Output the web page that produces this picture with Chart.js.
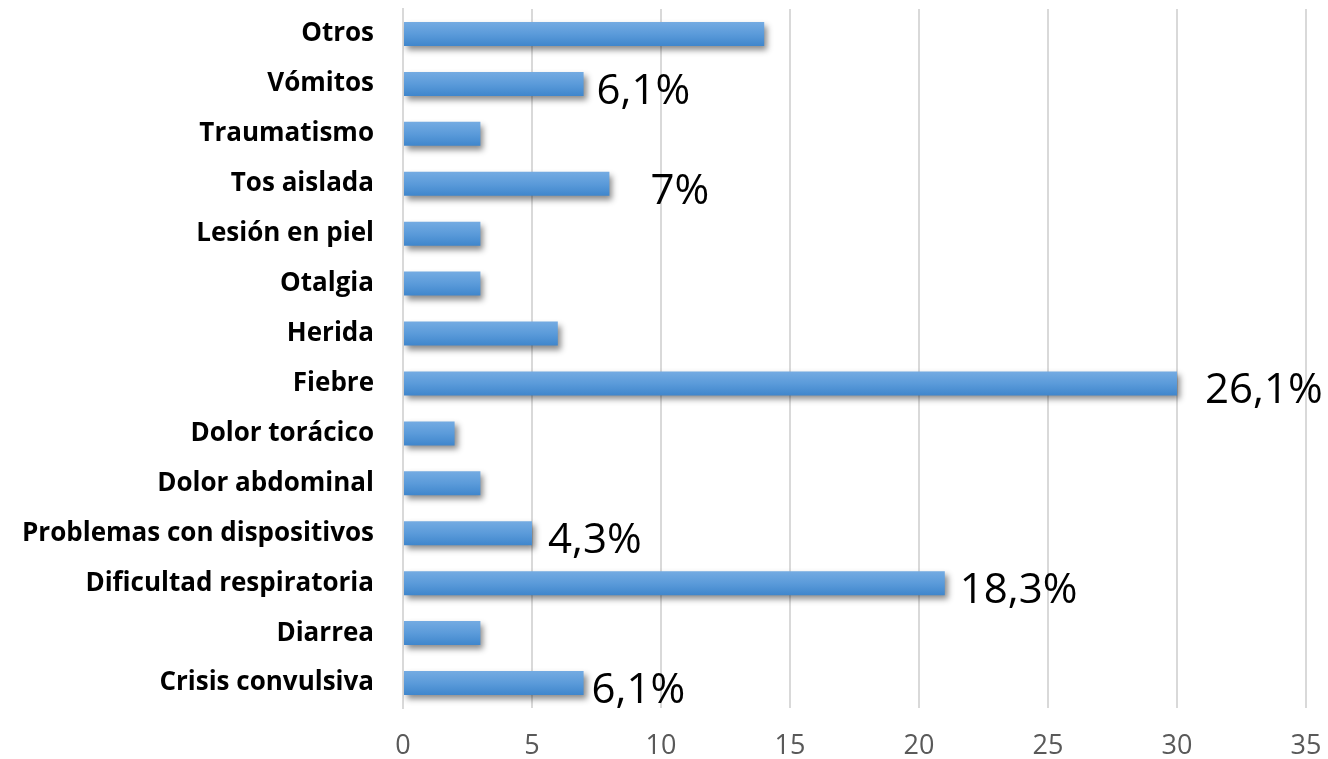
<!DOCTYPE html>
<html>
<head>
<meta charset="utf-8">
<script src="https://cdn.jsdelivr.net/npm/chart.js@4"></script>
<style>
  html, body { margin: 0; padding: 0; background: #fff; }
  #wrap { width: 1328px; height: 759px; }
</style>
</head>
<body>
<div id="wrap"><canvas id="barChart"></canvas></div>
<script>
// Categories, top to bottom as in the picture
const categories = ['Otros', 'Vómitos', 'Traumatismo', 'Tos aislada', 'Lesión en piel', 'Otalgia', 'Herida',
    'Fiebre', 'Dolor torácico', 'Dolor abdominal', 'Problemas con dispositivos',
    'Dificultad respiratoria', 'Diarrea', 'Crisis convulsiva'];
const counts = [14, 7, 3, 8, 3, 3, 6, 30, 2, 3, 5, 21, 3, 7];
const pctLabels = ['', '6,1%', '', '7%', '', '', '', '26,1%', '', '', '4,3%', '18,3%', '', '6,1%'];
const xTicks = [0, 5, 10, 15, 20, 25, 30, 35];

// horizontal nudge of each percentage label (px), layout only
const labelDx = [0, 13, 0, 41, 0, 0, 0, 28, 0, 0, 16, 15, 0, 8];
const BAR_PCT = 0.48;

const barShadow = {
    id: 'barShadow',
    beforeDatasetsDraw(chart) {
        const ctx = chart.ctx;
        ctx.save();
        ctx.shadowColor = 'rgba(0,0,0,0.45)';
        ctx.shadowBlur = 6;
        ctx.shadowOffsetX = 3;
        ctx.shadowOffsetY = 4;
    },
    afterDatasetsDraw(chart) {
        chart.ctx.restore();
    }
};

const pctLabelPlugin = {
    id: 'pctLabels',
    afterDatasetsDraw(chart) {
        const ctx = chart.ctx;
        const meta = chart.getDatasetMeta(0);
        ctx.save();
        ctx.font = '42px "Open Sans"';
        ctx.fillStyle = '#000';
        ctx.textAlign = 'left';
        ctx.textBaseline = 'middle';
        meta.data.forEach((bar, i) => {
            if (!pctLabels[i]) return;
            ctx.fillText(pctLabels[i], bar.x + labelDx[i], bar.y + 8);
        });
        ctx.restore();
    }
};

function barGradient(c) {
    const chart = c.chart;
    const area = chart.chartArea;
    const yScale = chart.scales.y;
    if (!area || !yScale || c.dataIndex === undefined) return '#5b9bd5';
    const h = area.height / categories.length * BAR_PCT;
    const yc = yScale.getPixelForValue(c.dataIndex);
    const grad = chart.ctx.createLinearGradient(0, yc - h / 2, 0, yc + h / 2);
    grad.addColorStop(0, '#74abe2');
    grad.addColorStop(0.5, '#5b9bda');
    grad.addColorStop(1, '#3f86cc');
    return grad;
}

const ctx = document.getElementById('barChart');

new Chart(ctx, {
    type: 'bar',
    data: {
        labels: categories,
        datasets: [{
            data: counts,
            backgroundColor: barGradient,
            borderWidth: 0,
            categoryPercentage: 1,
            barPercentage: BAR_PCT
        }]
    },
    options: {
        indexAxis: 'y',
        responsive: true,
        maintainAspectRatio: false,
        animation: false,
        layout: { padding: { left: 0, right: 22, top: 9, bottom: 0 } },
        plugins: {
            legend: { display: false },
            tooltip: { enabled: false }
        },
        scales: {
            x: {
                min: 0,
                max: 35,
                afterBuildTicks(axis) {
                    axis.ticks = xTicks.map(v => ({ value: v }));
                },
                afterFit(axis) {
                    axis.height = 51;
                    axis.paddingLeft = 0;
                    axis.paddingRight = 0;
                },
                grid: { color: '#d9d9d9', lineWidth: 2, drawTicks: false },
                border: { display: false },
                ticks: { color: '#595959', font: { family: 'Open Sans', size: 27 }, padding: 22 }
            },
            y: {
                afterFit(axis) {
                    axis.width = 403;
                    axis.paddingTop = 0;
                    axis.paddingBottom = 0;
                },
                grid: { display: false },
                border: { display: true, color: '#d9d9d9', width: 2 },
                ticks: { color: '#000', font: { family: 'Open Sans', size: 26, weight: 'bold' }, padding: 21 }
            }
        }
    },
    plugins: [barShadow, pctLabelPlugin]
});
</script>
</body>
</html>
